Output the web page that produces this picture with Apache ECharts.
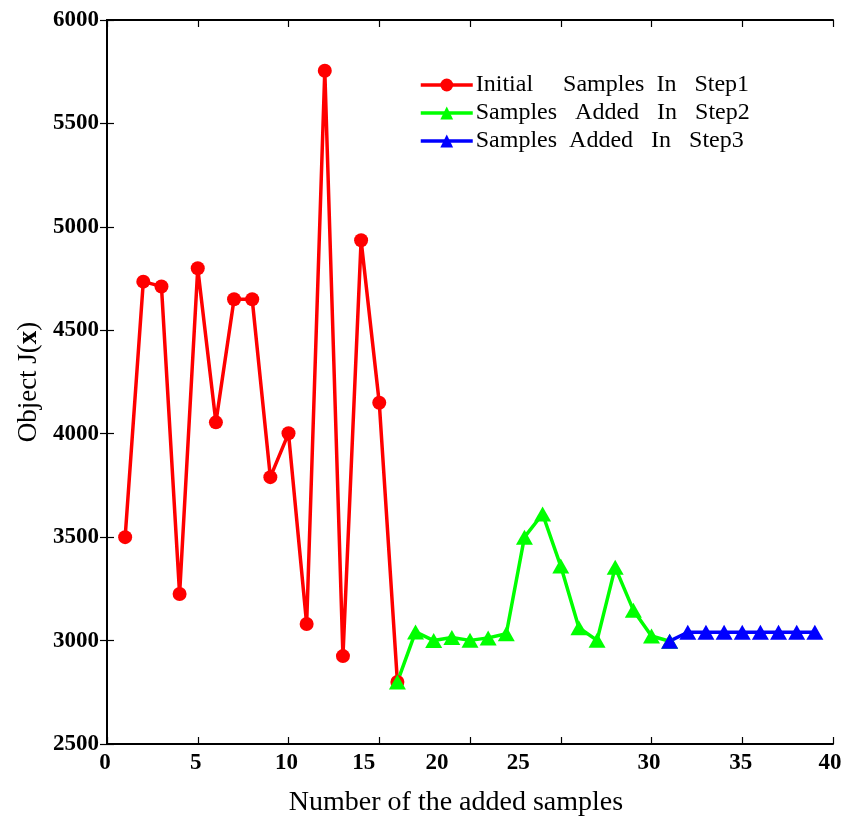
<!DOCTYPE html>
<html>
<head>
<meta charset="utf-8">
<script src="https://cdn.jsdelivr.net/npm/echarts@6/dist/echarts.min.js"></script>
<style>
html,body{margin:0;padding:0;background:#fff;}
#chart{width:856px;height:822px;}
</style>
</head>
<body>
<div id="chart"></div>
<script>
// ---- data ----
const seriesNames = ['Initial     Samples  In   Step1', 'Samples   Added   In   Step2', 'Samples  Added   In   Step3'];
const step1X = [1,2,3,4,5,6,7,8,9,10,11,12,13,14,15,16];
const step1Y = [3500,4735,4712,3225,4800,4055,4650,4650,3790,4002,3080,5755,2925,4935,4150,2800];
const step2X = [16,17,18,19,20,21,22,23,24,25,26,27,28,29,30,31];
const step2Y = [2800,3042,3000,3015,3001,3013,3033,3500,3612,3360,3062,3001,3354,3147,3022,2997];
const step3X = [31,32,33,34,35,36,37,38,39];
const step3Y = [2997,3040,3040,3040,3040,3040,3040,3040,3040];
const xTicks = [0,5,10,15,20,25,30,35,40];
const yTicks = [2500,3000,3500,4000,4500,5000,5500,6000];

function pairs(xs, ys){ return xs.map((x,i)=>[x, ys[i]]); }

const FONT = '"Liberation Serif","Times New Roman",serif';
// per-label horizontal shift (styling only) to mimic the original tick label placement
const labelShift = {0:4,5:4,10:4,15:31,20:66,25:85,30:5,35:3,40:6};
const rich = {};
xTicks.forEach(v=>{ rich['t'+v] = {fontFamily:FONT,fontWeight:'bold',fontSize:23,color:'#000',padding:[0,labelShift[v],0,0]}; });

const chart = echarts.init(document.getElementById('chart'), null, {renderer:'canvas'});
const axisLineStyle = {color:'#000', width:2};
chart.setOption({
  animation:false,
  backgroundColor:'#fff',
  grid:{left:107, right:23, top:20, bottom:75, containLabel:false},
  legend:{
    orient:'vertical', left:419, top:71, padding:0, itemGap:0,
    itemWidth:52, itemHeight:16,
    lineStyle:{width:3.5},
    textStyle:{fontFamily:FONT, fontSize:24, color:'#000', lineHeight:28, padding:[0,0,0,-2]},
    data:seriesNames
  },
  xAxis:[{
    type:'value', min:xTicks[0], max:xTicks[xTicks.length-1], interval:5,
    name:'Number of the added samples', nameLocation:'middle', nameGap:45,
    nameTextStyle:{fontFamily:FONT, fontSize:28, color:'#000', padding:[0,28,0,0]},
    axisLine:{show:true, lineStyle:axisLineStyle},
    axisTick:{show:true, inside:true, length:7, lineStyle:{color:'#000', width:1.2}},
    axisLabel:{margin:8, formatter:v=>'{t'+v+'|'+v+'}', rich:rich},
    splitLine:{show:false}
  },{
    type:'value', min:xTicks[0], max:xTicks[xTicks.length-1], interval:5, position:'top',
    axisLine:{show:true, lineStyle:axisLineStyle},
    axisTick:{show:true, inside:true, length:7, lineStyle:{color:'#000', width:1.2}},
    axisLabel:{show:false}, splitLine:{show:false}
  }],
  yAxis:[{
    type:'value', min:yTicks[0], max:yTicks[yTicks.length-1], interval:500,
    name:'Object J({b|x})', nameLocation:'middle', nameGap:64, nameRotate:90,
    nameTextStyle:{fontFamily:FONT, fontSize:27, color:'#000',
      rich:{b:{fontFamily:FONT, fontSize:27, fontWeight:'bold', color:'#000'}}},
    axisLine:{show:true, lineStyle:axisLineStyle},
    axisTick:{show:true, inside:true, length:7, lineStyle:{color:'#000', width:1.2}},
    axisLabel:{margin:8, fontFamily:FONT, fontWeight:'bold', fontSize:23, color:'#000', formatter:v=>String(v)},
    splitLine:{show:false}
  },{
    type:'value', min:yTicks[0], max:yTicks[yTicks.length-1], interval:500, position:'right',
    axisLine:{show:true, lineStyle:axisLineStyle},
    axisTick:{show:true, inside:true, length:7, lineStyle:{color:'#000', width:1.2}},
    axisLabel:{show:false}, splitLine:{show:false}
  }],
  series:[{
    name:seriesNames[0], type:'line', data:pairs(step1X, step1Y),
    symbol:'circle', symbolSize:14, showAllSymbol:true,
    lineStyle:{color:'#ff0000', width:3.5}, itemStyle:{color:'#ff0000'}
  },{
    name:seriesNames[1], type:'line', data:pairs(step2X, step2Y),
    symbol:'triangle', symbolSize:[17,15], showAllSymbol:true,
    lineStyle:{color:'#00ff00', width:3.5}, itemStyle:{color:'#00ff00'}
  },{
    name:seriesNames[2], type:'line', data:pairs(step3X, step3Y),
    symbol:'triangle', symbolSize:[17,15], showAllSymbol:true,
    lineStyle:{color:'#0000ff', width:3.5}, itemStyle:{color:'#0000ff'}
  }]
});
</script>
</body>
</html>
